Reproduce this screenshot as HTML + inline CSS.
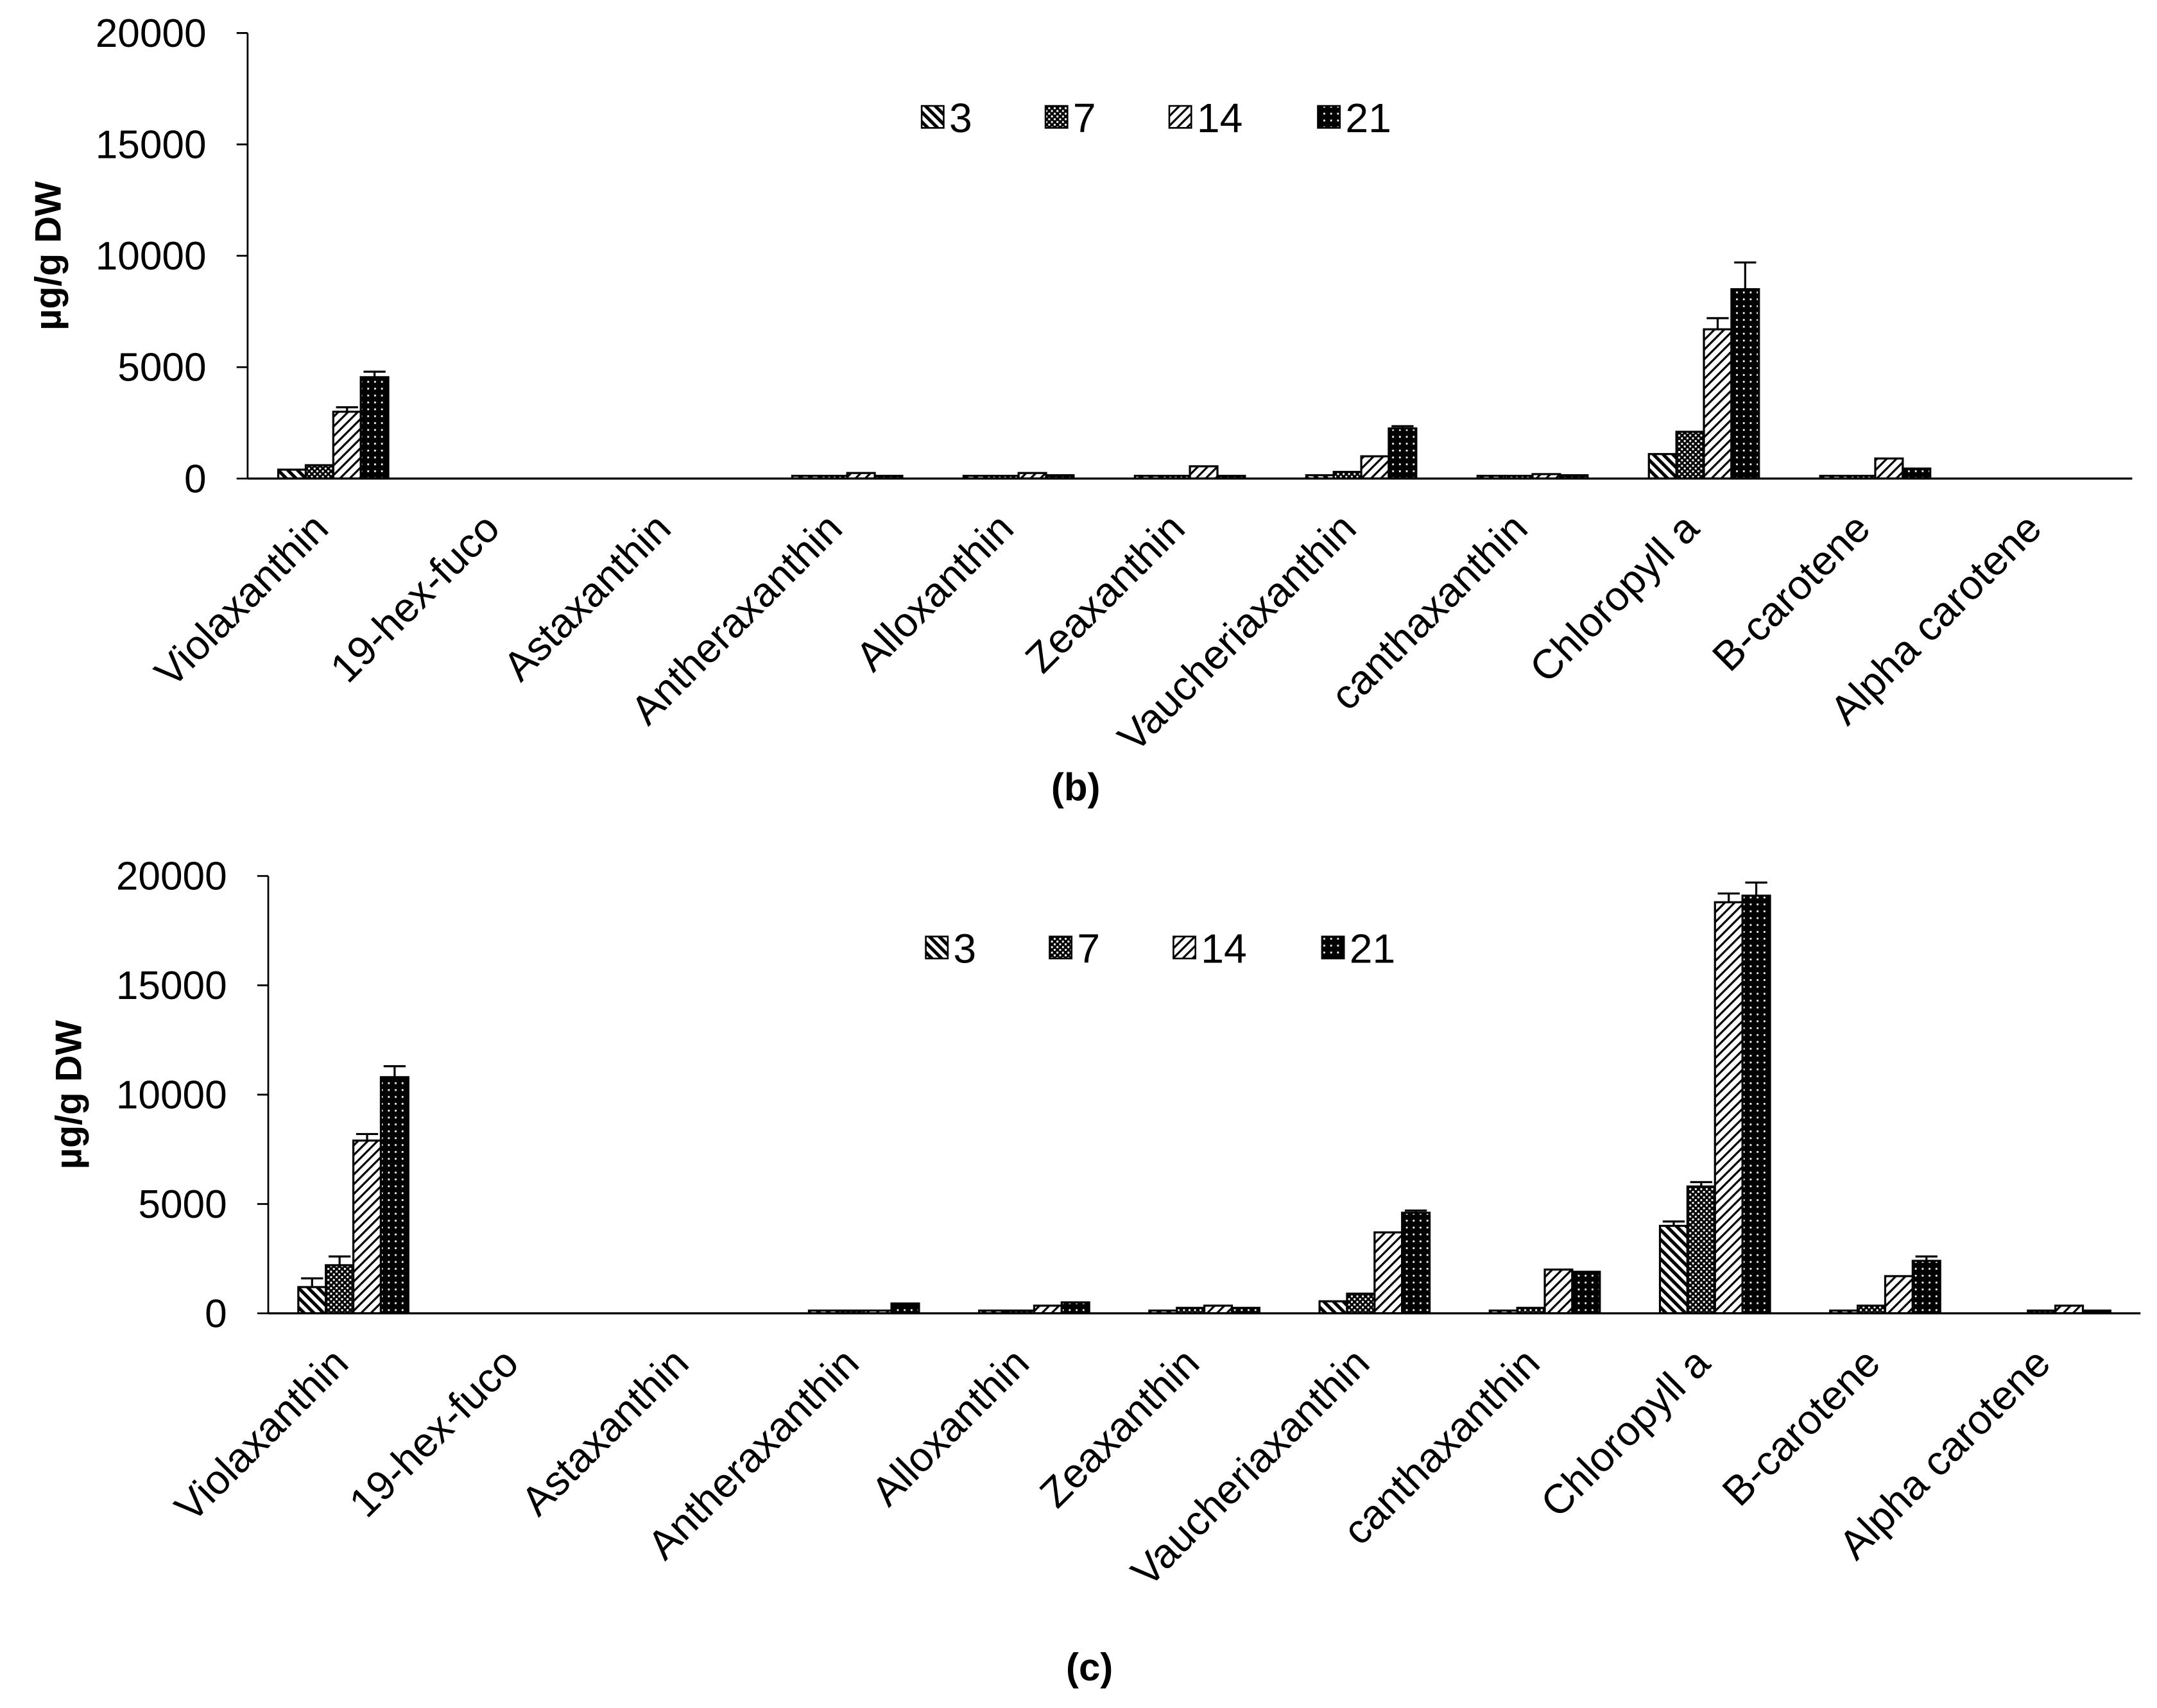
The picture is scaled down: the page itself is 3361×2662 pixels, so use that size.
<!DOCTYPE html>
<html><head><meta charset="utf-8"><style>
html,body{margin:0;padding:0;background:#fff;}
svg{display:block;font-family:"Liberation Sans",sans-serif;}
</style></head><body>
<svg id="fig" width="3361" height="2662" viewBox="0 0 1568 1242" preserveAspectRatio="none" xmlns="http://www.w3.org/2000/svg">
<defs>
<pattern id="p3" patternUnits="userSpaceOnUse" width="5" height="5" patternTransform="rotate(-45)"><rect width="5" height="5" fill="#fff"/><rect width="2.4" height="5" fill="#000"/></pattern>
<pattern id="p7" patternUnits="userSpaceOnUse" width="4" height="4"><rect width="4" height="4" fill="#000"/><rect x="0" y="0" width="1.4" height="1.4" fill="#fff"/><rect x="2" y="2" width="1.4" height="1.4" fill="#fff"/></pattern>
<pattern id="p14" patternUnits="userSpaceOnUse" width="5" height="5" patternTransform="rotate(45)"><rect width="5" height="5" fill="#fff"/><rect width="1.5" height="5" fill="#000"/></pattern>
<pattern id="p21" patternUnits="userSpaceOnUse" width="5" height="5"><rect width="5" height="5" fill="#000"/><rect x="2" y="2" width="1.3" height="1.3" fill="#fff"/></pattern>
</defs>
</svg>
<script>
const categories = ["Violaxanthin","19-hex-fuco","Astaxanthin","Antheraxanthin","Alloxanthin","Zeaxanthin","Vaucheriaxanthin","canthaxanthin","Chloropyll a","B-carotene","Alpha carotene"];
const seriesNames = ["3","7","14","21"];
const tickLabels = [0,5000,10000,15000,20000];
// panel (b)
const b3  = [400,0,0,30,30,30,150,30,1100,30,0];
const b7  = [600,0,0,30,30,30,300,30,2100,100,0];
const b14 = [3000,0,0,250,250,550,1000,200,6700,900,0];
const b21 = [4550,0,0,30,150,30,2250,150,8500,450,0];
const bErr14 = [200,0,0,0,0,0,0,0,500,0,0];
const bErr21 = [250,0,0,0,0,0,100,0,1200,0,0];
// panel (c)
const c3  = [1200,0,0,30,30,50,550,100,4000,30,0];
const c7  = [2200,0,0,100,100,250,900,250,5800,350,50];
const c14 = [7900,0,0,100,350,350,3700,2000,18800,1700,350];
const c21 = [10800,0,0,450,500,250,4600,1900,19100,2400,100];
const cErr3  = [400,0,0,0,0,0,0,0,200,0,0];
const cErr7  = [400,0,0,0,0,0,0,0,200,0,0];
const cErr14 = [300,0,0,0,0,0,0,0,400,0,0];
const cErr21 = [500,0,0,0,0,0,100,0,600,200,0];

const NS="http://www.w3.org/2000/svg";
const svg=document.getElementById('fig');
function mk(t,a,p){const e=document.createElementNS(NS,t);for(const k in a)e.setAttribute(k,a[k]);(p||svg).appendChild(e);return e;}
const pats=["url(#p3)","url(#p7)","url(#p14)","url(#p21)"];

function panel(cfg,series,errs){
  const g=mk('g',{});
  
  
  const yMax=20000;
  const y=v=>cfg.y0-(v/yMax)*(cfg.y0-cfg.yTop);
  const slot=(cfg.xR-cfg.x0)/categories.length;
  const xc=i=>cfg.x0+slot*(i+0.5);
  const bw=20;
  const ya=mk('line',{x1:cfg.x0,y1:cfg.yTop,x2:cfg.x0,y2:cfg.y0,stroke:'#000','stroke-width':1.3},g);
  
  
  tickLabels.forEach(t=>{
    mk('line',{x1:cfg.x0-8,y1:y(t),x2:cfg.x0,y2:y(t),stroke:'#000','stroke-width':1.3},g);
    const tx=mk('text',{x:cfg.x0-30,y:y(t)+10,'text-anchor':'end','font-size':29},g);
    tx.textContent=t;
    
    
  });
  const yt=mk('text',{x:0,y:0,'text-anchor':'middle','font-size':27,'font-weight':'bold',transform:`translate(${cfg.x0-136},${(cfg.y0+cfg.yTop)/2}) rotate(-90)`},g);
  yt.textContent='µg/g DW';
  
  
  categories.forEach((c,i)=>{
    series.forEach((arr,s)=>{
      if(arr[i]<=0) return;
      const bx=xc(i)-2*bw+s*bw;
      const h=Math.max(cfg.y0-y(arr[i]),2);
      const r=mk('rect',{x:bx,y:cfg.y0-h,width:bw,height:h,fill:pats[s],stroke:'#000','stroke-width':1.5},g);
      
      
      const e=errs[s]?errs[s][i]:0;
      if(e>0){
        const top=y(arr[i]+e), mid=bx+bw/2;
        const el=mk('path',{d:`M${mid},${y(arr[i])}V${top}M${mid-8},${top}H${mid+8}`,stroke:'#000','stroke-width':1.5,fill:'none'},g);
        
        
      }
    });
    const lab=mk('text',{x:0,y:0,'text-anchor':'end','font-size':30,transform:`translate(${xc(i)-2},${cfg.y0+38}) rotate(-45)`},g);
    lab.textContent=c;
    
    
  });
  const xa=mk('line',{x1:cfg.x0,y1:cfg.y0,x2:cfg.xR,y2:cfg.y0,stroke:'#000','stroke-width':1.5},g);
  
  
  seriesNames.forEach((n,s)=>{
    const lx=cfg.legX[s];
    const lr=mk('rect',{x:lx,y:cfg.legY-9,width:16,height:16,fill:pats[s],stroke:'#000','stroke-width':1.2},g);
    
    
    const lt=mk('text',{x:lx+20,y:cfg.legY+10,'font-size':30},g);
    lt.textContent=n;
    
    
  });
  const cap=mk('text',{x:cfg.capX,y:cfg.capY,'text-anchor':'middle','font-size':28,'font-weight':'bold'},g);
  cap.textContent=cfg.cap;
  
  
}
panel({name:'chart-b',x0:180,xR:1550,yTop:24,y0:348,legX:[670,760,850,958],legY:86,cap:'(b)',capX:782,capY:582},[b3,b7,b14,b21],[null,null,bErr14,bErr21]);
panel({name:'chart-c',x0:195,xR:1556,yTop:637,y0:955,legX:[673,763,853,961],legY:690,cap:'(c)',capX:792,capY:1222},[c3,c7,c14,c21],[cErr3,cErr7,cErr14,cErr21]);
</script>
</body></html>
